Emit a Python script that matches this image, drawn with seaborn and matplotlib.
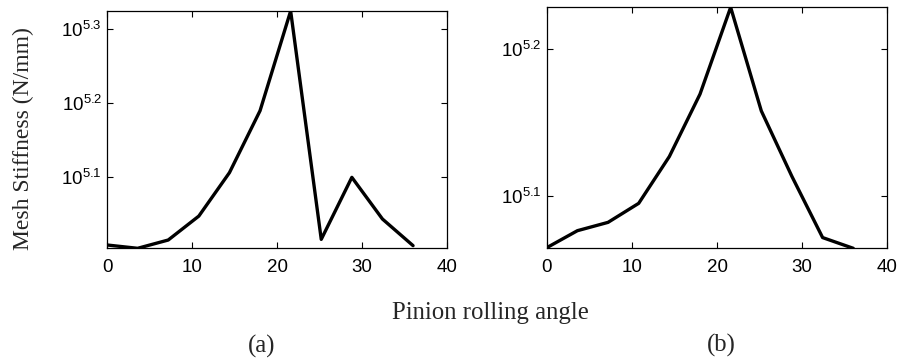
import matplotlib
matplotlib.use("Agg")
import matplotlib.pyplot as plt
import matplotlib.ticker as mticker
import numpy as np
import pandas as pd
import seaborn as sns

# Pinion rolling angle (deg) sampled at the mesh positions
angle = [0, 3.6, 7.2, 10.8, 14.4, 18.0, 21.6, 25.2, 28.8, 32.4, 36.0]

# Mesh stiffness (N/mm), case (a)
stiffness_a = [102000, 100950, 103590, 111600, 127740, 154880,
               211250, 103800, 125890, 110580, 101790]

# Mesh stiffness (N/mm), case (b)
stiffness_b = [116000, 119140, 120710, 124370, 133860, 147630,
               169200, 143800, 129720, 117860, 115890]

x_ticks = [0, 10, 20, 30, 40]
y_exponents_a = [5.1, 5.2, 5.3]
y_exponents_b = [5.1, 5.2]

sns.set_style("ticks")
plt.rcParams["font.family"] = ["Liberation Sans", "DejaVu Sans"]
plt.rcParams["mathtext.fontset"] = "custom"
plt.rcParams["mathtext.rm"] = "Liberation Sans"
plt.rcParams["mathtext.it"] = "Liberation Sans:italic"
plt.rcParams["mathtext.default"] = "regular"

fig = plt.figure(figsize=(9.07, 3.58), dpi=100)
ax_a = fig.add_axes([0.1180, 0.3064, 0.3749, 0.6629])
ax_b = fig.add_axes([0.6028, 0.3064, 0.3755, 0.6732])

panels = [(ax_a, stiffness_a, y_exponents_a), (ax_b, stiffness_b, y_exponents_b)]
for ax, values, exps in panels:
    df = pd.DataFrame({"angle": angle, "stiffness": values})
    sns.lineplot(data=df, x="angle", y="stiffness", ax=ax, color="black",
                 linewidth=2.4, sort=False, estimator=None)
    ax.set_yscale("log")
    ax.set_xlim(0, 40)
    ax.set_ylim(min(values), max(values))
    ax.set_xticks(x_ticks)
    ax.set_xticklabels([str(t) for t in x_ticks])
    ax.set_yticks([10 ** e for e in exps])
    ax.set_yticklabels([r"$10^{%.1f}$" % e for e in exps])
    ax.yaxis.set_minor_locator(mticker.NullLocator())
    ax.set_xlabel("")
    ax.set_ylabel("")
    for s in ax.spines.values():
        s.set_visible(True)
        s.set_linewidth(0.9)
        s.set_color("black")
    ax.tick_params(axis="both", which="major", direction="in", length=4,
                   width=0.8, top=True, right=True, labelsize=13.5,
                   colors="black")
    ax.tick_params(axis="x", pad=7.5)
    ax.tick_params(axis="y", pad=3.5)

serif = ["Liberation Serif", "DejaVu Serif"]
fig.text(23 / 907, 1 - 139 / 358, "Mesh Stiffness (N/mm)", rotation=90,
         ha="center", va="center", fontsize=17, family=serif)
fig.text(490 / 907, 1 - 313 / 358, "Pinion rolling angle",
         ha="center", va="center", fontsize=17.8, family=serif)
fig.text(262 / 907, 1 - 346 / 358, "(a)", ha="center", va="center",
         fontsize=17.8, family=serif)
fig.text(721 / 907, 1 - 345 / 358, "(b)", ha="center", va="center",
         fontsize=17.8, family=serif)

fig.savefig("out.png", dpi=100)
